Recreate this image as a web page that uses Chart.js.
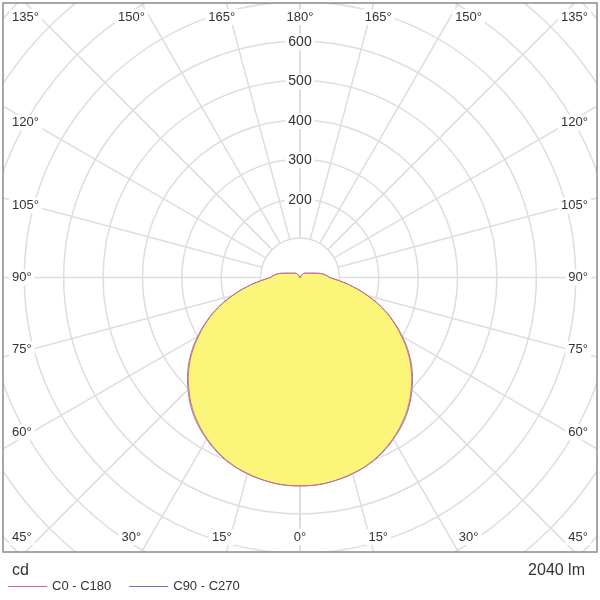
<!DOCTYPE html>
<html>
<head>
<meta charset="utf-8">
<title>Luminous intensity distribution</title>
<script src="https://cdn.jsdelivr.net/npm/chart.js@4.4.0/dist/chart.umd.min.js"></script>
<style>
  html, body { margin: 0; padding: 0; background: #fff; }
  #wrap { width: 600px; height: 600px; }
</style>
</head>
<body>
<div id="wrap"><canvas id="ldc" width="600" height="600"></canvas></div>
<script>
// gamma angles (deg, 0 = straight down) and intensities in cd
let gammaAngles = [0, 5, 10, 15, 20, 25, 30, 35, 40, 45, 50, 55, 60, 65, 70, 75, 80, 85, 90,
                   95, 100, 105, 110, 115, 120, 125, 130, 135, 140, 145, 150, 155, 160, 165, 170, 175, 180];
let c0c180  = [529, 528, 523, 515, 505, 490, 472, 451, 427, 399, 369, 335, 297, 259, 219, 177, 137, 102, 76,
               66, 56, 42, 32, 26, 22, 19, 17, 15, 13, 9, 0, 0, 0, 0, 0, 0, 0];
let c90c270 = [529, 528, 523, 516, 506, 492, 474, 454, 430, 402, 372, 338, 300, 261, 221, 178, 138, 102, 76,
               66, 56, 42, 32, 26, 22, 19, 17, 15, 13, 9, 0, 0, 0, 0, 0, 0, 0];
let seriesNames = ['C0 - C180', 'C90 - C270'];
let ringValues = [100, 200, 300, 400, 500, 600, 700, 800, 900, 1000];
let ringLabels = [200, 300, 400, 500, 600];
let angleTicks = [0, 15, 30, 45, 60, 75, 90, 105, 120, 135, 150, 165, 180];
let unitText = 'cd';
let fluxText = '2040 lm';

const FONT = '"Liberation Sans", Arial, sans-serif';
const rad = d => d * Math.PI / 180;

// polar (gamma, I) -> x/y values for the linear scales, left half then right half
function toPoints(values) {
  let pts = [];
  for (let i = gammaAngles.length - 1; i >= 0; i--) {
    let g = rad(gammaAngles[i]);
    pts.push({x: -values[i] * Math.sin(g), y: -values[i] * Math.cos(g)});
  }
  for (let i = 1; i < gammaAngles.length; i++) {
    let g = rad(gammaAngles[i]);
    pts.push({x: values[i] * Math.sin(g), y: -values[i] * Math.cos(g)});
  }
  return pts;
}

function labelBox(ctx, text, x, y, align) {
  let w = ctx.measureText(text).width;
  let left = align === 'left' ? x : align === 'right' ? x - w : x - w / 2;
  ctx.fillStyle = '#fff';
  ctx.fillRect(left - 3, y - 8, w + 6, 16);
  ctx.fillStyle = '#333';
  ctx.textAlign = align;
  ctx.fillText(text, x, y);
}

const polarGrid = {
  id: 'polarGrid',
  beforeDraw(chart) {
    const {ctx, chartArea: a, scales: {x, y}} = chart;
    const cx = x.getPixelForValue(0), cy = y.getPixelForValue(0);
    ctx.save();
    ctx.beginPath();
    ctx.rect(a.left, a.top, a.right - a.left, a.bottom - a.top);
    ctx.clip();
    ctx.strokeStyle = '#dddddd';
    ctx.lineWidth = 1.5;
    ringValues.forEach(v => {
      let r = x.getPixelForValue(v) - cx;
      ctx.beginPath();
      ctx.arc(cx, cy, r, 0, Math.PI * 2);
      ctx.stroke();
    });
    let r0 = x.getPixelForValue(ringValues[0]) - cx;
    let r1 = x.getPixelForValue(2000) - cx;
    angleTicks.forEach(t => {
      [-1, 1].forEach(s => {
        let g = rad(t), dx = s * Math.sin(g), dy = Math.cos(g);
        ctx.beginPath();
        ctx.moveTo(cx + dx * r0, cy + dy * r0);
        ctx.lineTo(cx + dx * r1, cy + dy * r1);
        ctx.stroke();
      });
    });
    ctx.restore();
  },
  afterDatasetsDraw(chart) {
    const {ctx, chartArea: a, scales: {x, y}} = chart;
    const cx = x.getPixelForValue(0), cy = y.getPixelForValue(0);
    ctx.save();
    ctx.textBaseline = 'middle';
    ctx.font = '14px ' + FONT;
    ringLabels.forEach(v => {
      labelBox(ctx, String(v), cx, y.getPixelForValue(v) + 1, 'center');
    });
    ctx.font = '13px ' + FONT;
    angleTicks.forEach(t => {
      let sides = (t === 0 || t === 180) ? [1] : [-1, 1];
      sides.forEach(s => {
        let txt = t + '°';
        let w = ctx.measureText(txt).width;
        let g = rad(t);
        if (t <= 45 || t >= 135) {
          let ty = t <= 45 ? a.bottom - 15 : a.top + 14;
          let tx = cx + s * 292 * Math.abs(Math.tan(g));
          tx = Math.max(a.left + 9 + w / 2, Math.min(a.right - 9 - w / 2, tx));
          labelBox(ctx, txt, tx, ty, 'center');
        } else {
          let ty = cy + 268 * Math.cos(g) / Math.sin(g);
          if (s < 0) labelBox(ctx, txt, a.left + 9, ty, 'left');
          else labelBox(ctx, txt, a.right - 9, ty, 'right');
        }
      });
    });
    ctx.restore();
  },
  afterDraw(chart) {
    const {ctx, chartArea: a} = chart;
    ctx.save();
    ctx.strokeStyle = '#8a8a8a';
    ctx.lineWidth = 1.5;
    ctx.strokeRect(a.left, a.top, a.right - a.left, a.bottom - a.top);

    ctx.fillStyle = '#333';
    ctx.textBaseline = 'alphabetic';
    ctx.font = '16px ' + FONT;
    ctx.textAlign = 'left';
    ctx.fillText(unitText, 12, 575);
    ctx.textAlign = 'right';
    ctx.fillText(fluxText, 585, 575);

    // legend
    ctx.font = '13px ' + FONT;
    ctx.textAlign = 'left';
    ctx.textBaseline = 'middle';
    let lx = 8;
    chart.data.datasets.forEach(ds => {
      ctx.strokeStyle = ds.borderColor;
      ctx.lineWidth = 1;
      ctx.beginPath();
      ctx.moveTo(lx, 586.5);
      ctx.lineTo(lx + 39, 586.5);
      ctx.stroke();
      ctx.fillStyle = '#333';
      ctx.fillText(ds.label, lx + 44, 586);
      lx += 44 + ctx.measureText(ds.label).width + 18;
    });
    ctx.restore();
  }
};

new Chart(document.getElementById('ldc'), {
  type: 'scatter',
  data: {
    datasets: [
      {
        label: seriesNames[0],
        data: toPoints(c0c180),
        showLine: true,
        tension: 0.4,
        borderColor: '#d9667a',
        borderWidth: 0.9,
        pointRadius: 0,
        fill: false
      },
      {
        label: seriesNames[1],
        data: toPoints(c90c270),
        showLine: true,
        tension: 0.4,
        borderColor: '#7471b3',
        borderWidth: 0.9,
        pointRadius: 0,
        backgroundColor: '#fbf57a',
        fill: 'shape'
      }
    ]
  },
  options: {
    responsive: false,
    animation: false,
    events: [],
    layout: {padding: {left: 3, right: 3, top: 3, bottom: 48}},
    scales: {
      x: {type: 'linear', min: -754, max: 754, display: false},
      y: {type: 'linear', min: -697, max: 697, display: false}
    },
    plugins: {
      legend: {display: false},
      tooltip: {enabled: false}
    }
  },
  plugins: [polarGrid]
});
</script>
</body>
</html>
